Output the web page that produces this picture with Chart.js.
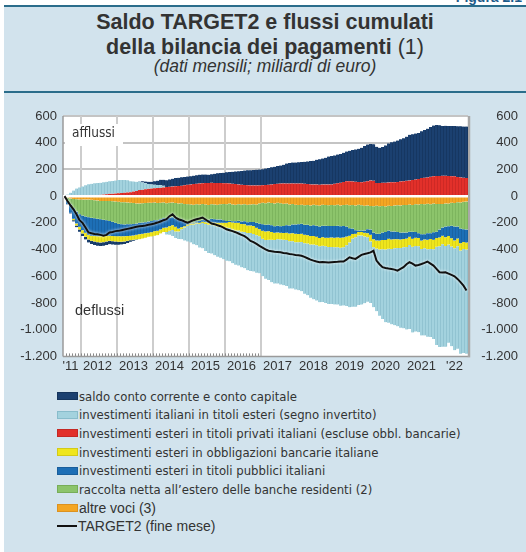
<!DOCTYPE html>
<html lang="it">
<head>
<meta charset="utf-8">
<title>Saldo TARGET2 e flussi cumulati</title>
<script src="https://cdn.jsdelivr.net/npm/chart.js@4.4.1/dist/chart.umd.min.js"></script>
<style>
  html, body { margin: 0; padding: 0; background: #fff; }
  #pagina { position: relative; width: 526px; height: 552px; overflow: hidden; background: #fff; }
  #pannello { position: absolute; left: 4px; top: 5px; right: 0; bottom: 0; background: #d2e3ed; border-top: 2px solid #2b6d8b; }
  #figura { position: absolute; right: 4px; top: -11px; font: bold 14px 'Liberation Sans', Arial, sans-serif; color: #1d5b8a; }
  #intestazione { position: absolute; left: 4px; right: 0; top: 7px; height: 84px; border-bottom: 2px solid #2b6d8b;
    text-align: center; color: #333; font-family: 'Liberation Sans', Arial, sans-serif; }
  .riga { position: absolute; left: 0; right: 0; white-space: nowrap; }
  .tit { font-weight: bold; font-size: 21.5px; line-height: 25px; }
  .tit span { font-weight: normal; }
  .sottotit { font-style: italic; font-size: 17.5px; line-height: 18px; }
  #area { position: absolute; background: #fff; }
  #grafico { position: absolute; left: 0; top: 95px; }
  #legenda { position: absolute; left: 57px; top: 387px; margin: 0; padding: 0; list-style: none; }
  #legenda li { height: 18.6px; display: flex; align-items: center; white-space: nowrap;
    font-family: 'DejaVu Sans Condensed', 'DejaVu Sans', sans-serif; font-stretch: condensed; font-size: 13px; color: #333; }
  #legenda li.arial { font-family: 'Liberation Sans', Arial, sans-serif; font-stretch: normal; font-size: 14px; }
  #legenda .box { width: 19px; height: 6px; margin-right: 1px; border: 1px solid; }
  #legenda .linea { width: 20px; height: 0; border-top: 2px solid #111; margin-right: 1px; }
</style>
</head>
<body>
<div id="pagina">
  <div id="figura">Figura 2.1</div>
  <div id="pannello"></div>
  <div id="intestazione">
    <div class="riga tit" style="top:3px">Saldo TARGET2 e flussi cumulati</div>
    <div class="riga tit" style="top:28px">della bilancia dei pagamenti <span>(1)</span></div>
    <div class="riga sottotit" style="top:50px">(dati mensili; miliardi di euro)</div>
  </div>
  <div id="area"></div>
  <canvas id="grafico" width="526" height="285"></canvas>
  <ul id="legenda"></ul>
</div>
<script>
// mesi da luglio 2011 a settembre 2022
const mesi = [];
for (let a = 2011, m = 7; mesi.length < 135; ) {
  mesi.push(a + '-' + String(m).padStart(2, '0'));
  m++;
  if (m > 12) { m = 1; a++; }
}

// etichette degli anni e mese su cui sono centrate
const etichetteAnni = ["'11", '2012', '2013', '2014', '2015', '2016', '2017', '2018', '2019', '2020', '2021', "'22"];
const posizioneAnni = ['2011-09', '2012-06', '2013-06', '2014-06', '2015-06', '2016-06', '2017-06', '2018-06', '2019-06', '2020-06', '2021-06', '2022-05'];
const griglieAnni = ['2012-01', '2013-01', '2014-01', '2015-01', '2016-01', '2017-01'];

const tickY = [600, 400, 200, 0, -200, -400, -600, -800, -1000, -1200];
const griglieY = [600, 400, 200];

// saldo conto corrente e conto capitale
const saldoCorrente = [
  0, -3, -6, -10, -13, -16,
  -18, -20, -22, -24, -25, -26, -27, -27, -26, -25, -25, -24,
  -22, -20, -18, -15, -12, -8, -4, 2, 8, 12, 16, 20,
  25, 32, 40, 45, 50, 55, 58, 62, 62, 64, 62, 62,
  62, 63, 64, 66, 66, 64, 62, 64, 68, 72, 75, 78,
  82, 85, 90, 95, 99, 104, 108, 112, 114, 116, 118, 119,
  120, 123, 126, 128, 130, 133, 135, 140, 150, 155, 157, 158,
  160, 161, 165, 170, 175, 178, 185, 190, 195, 200, 210, 212,
  213, 215, 216, 218, 222, 227, 235, 242, 248, 258, 268, 274,
  274, 273, 270, 263, 268, 280, 293, 300, 305, 310, 315, 322,
  330, 342, 344, 345, 345, 350, 358, 365, 372, 380, 382, 380,
  373, 375, 376, 376, 378, 380, 383, 384, 385
];

// investimenti italiani in titoli esteri (segno invertito)
const investItaliani = [
  0, 12, 25, 40, 55, 62,
  70, 78, 84, 87, 88, 90, 90, 92, 94, 95, 96, 97,
  98, 97, 95, 90, 82, 76, 70, 64, 55, 45, 36, 30,
  27, 24, 20, 12, -19, -30, -44, -50, -56, -75, -98, -118,
  -132, -148, -163, -179, -189, -202, -212, -217, -222, -227, -234, -240,
  -247, -250, -252, -257, -262, -267, -272, -279, -284, -281, -280, -278,
  -280, -290, -302, -319, -326, -333, -338, -340, -345, -355, -355, -355,
  -360, -368, -378, -387, -398, -410, -414, -418, -421, -424, -427, -428,
  -428, -430, -433, -436, -455, -485, -510, -520, -521, -517, -500, -483,
  -460, -450, -469, -497, -522, -545, -554, -564, -576, -587, -598, -607,
  -618, -630, -642, -641, -644, -648, -652, -656, -660, -673, -735, -755,
  -768, -755, -735, -746, -764, -768, -772, -779, -780
];

// investimenti esteri in titoli privati italiani (escluse obbl. bancarie)
const investPrivati = [
  0, 0, 1, 2, 2, 3,
  3, 4, 5, 6, 8, 9, 10, 12, 14, 17, 18, 20,
  22, 24, 26, 28, 30, 34, 38, 45, 48, 52, 55, 57,
  59, 60, 62, 65, 68, 70, 72, 74, 75, 78, 82, 85,
  87, 90, 93, 95, 96, 98, 99, 100, 99, 99, 98, 97,
  96, 95, 92, 90, 87, 85, 83, 81, 80, 80, 80, 80,
  82, 84, 85, 88, 90, 92, 94, 95, 94, 94, 95, 94,
  94, 94, 92, 90, 88, 87, 87, 86, 87, 87, 87, 88,
  92, 96, 100, 106, 112, 112, 110, 108, 106, 104, 108, 112,
  117, 115, 99, 99, 100, 100, 102, 104, 104, 106, 110, 112,
  115, 117, 120, 124, 128, 135, 137, 140, 145, 149, 150, 150,
  152, 152, 150, 149, 148, 144, 140, 137, 136
];

// investimenti esteri in obbligazioni bancarie italiane
const obblBancarie = [
  0, 0, 0, -10, -15, -20,
  -25, -30, -35, -38, -42, -45, -47, -46, -42, -38, -40, -40,
  -42, -41, -40, -37, -33, -32, -35, -37, -36, -34, -31, -32,
  -33, -32, -30, -32, -34, -35, -36, -34, -22, -15, -10, -10,
  -10, -8, -7, -7, -10, -13, -14, -17, -22, -27, -29, -32,
  -37, -44, -53, -57, -58, -57, -58, -57, -56, -60, -57, -52,
  -60, -63, -63, -58, -54, -50, -50, -51, -54, -57, -60, -63,
  -61, -62, -62, -63, -64, -65, -63, -62, -64, -65, -68, -70,
  -72, -73, -75, -74, -65, -50, -35, -27, -27, -27, -28, -30,
  -50, -60, -61, -66, -70, -71, -74, -72, -68, -66, -63, -62,
  -62, -61, -60, -61, -62, -62, -66, -70, -74, -70, -65, -65,
  -63, -65, -65, -62, -58, -57, -56, -51, -52
];

// investimenti esteri in titoli pubblici italiani
const titoliPubblici = [
  0, -25, -62, -80, -90, -94,
  -110, -123, -132, -135, -132, -130, -127, -123, -118, -111, -106, -100,
  -94, -91, -88, -88, -87, -87, -85, -85, -84, -83, -84, -84,
  -83, -80, -77, -72, -67, -63, -59, -63, -70, -60, -40, -20,
  -7, -7, -10, -12, -16, -19, -23, -26, -25, -25, -24, -20,
  -13, -10, -9, -12, -15, -20, -22, -24, -26, -29, -37, -43,
  -50, -50, -50, -50, -50, -50, -49, -52, -56, -60, -65, -70,
  -74, -75, -76, -77, -78, -80, -83, -87, -87, -89, -88, -87,
  -87, -87, -87, -85, -75, -57, -40, -26, -10, -10, -17, -30,
  -40, -50, -50, -52, -56, -60, -62, -60, -57, -54, -52, -49,
  -46, -38, -52, -44, -36, -48, -40, -50, -44, -56, -48, -60,
  -62, -80, -72, -95, -105, -90, -110, -96, -98
];

// raccolta netta all'estero delle banche residenti
const raccoltaBanche = [
  -2, -25, -44, -68, -91, -111,
  -120, -127, -133, -135, -136, -137, -136, -139, -143, -149, -154, -160,
  -164, -165, -166, -162, -160, -156, -150, -145, -144, -143, -140, -136,
  -132, -128, -123, -118, -115, -112, -111, -115, -118, -120, -127, -132,
  -136, -133, -128, -124, -118, -114, -111, -110, -111, -111, -115, -122,
  -127, -128, -126, -124, -125, -126, -128, -130, -132, -134, -136, -150,
  -160, -162, -165, -166, -170, -172, -171, -167, -162, -158, -153, -147,
  -143, -143, -145, -149, -151, -153, -154, -156, -157, -155, -155, -157,
  -156, -157, -155, -158, -164, -171, -177, -185, -193, -190, -185, -178,
  -176, -196, -210, -206, -199, -191, -186, -190, -195, -200, -203, -206,
  -206, -203, -201, -208, -215, -227, -224, -220, -217, -215, -207, -192,
  -177, -173, -170, -171, -175, -182, -195, -206, -210
];

// altre voci
const altreVoci = [
  -3, -10, -18, -22, -24, -25,
  -25, -25, -25, -27, -30, -33, -37, -37, -37, -37, -38, -40,
  -42, -45, -46, -48, -50, -52, -55, -55, -54, -52, -50, -50,
  -48, -52, -50, -47, -53, -50, -48, -52, -55, -53, -58, -60,
  -62, -65, -60, -63, -58, -62, -66, -60, -62, -64, -60, -58,
  -60, -56, -62, -64, -60, -63, -60, -65, -62, -60, -63, -55,
  -50, -53, -48, -52, -55, -50, -54, -57, -56, -62, -59, -65,
  -67, -64, -69, -66, -70, -65, -68, -71, -64, -67, -69, -66,
  -68, -65, -70, -66, -64, -69, -66, -70, -65, -68, -72, -70,
  -74, -76, -72, -75, -73, -77, -72, -74, -70, -68, -70, -66,
  -66, -63, -66, -60, -62, -58, -61, -57, -60, -56, -59, -58,
  -58, -55, -56, -50, -52, -46, -47, -42, -40
];

// TARGET2 (fine mese)
const target2 = [
  0, -37, -70, -99, -136, -180,
  -200, -235, -272, -278, -283, -285, -290, -297, -290, -272, -268, -262,
  -260, -255, -250, -245, -240, -235, -230, -226, -223, -220, -215, -210,
  -205, -198, -190, -180, -173, -150, -136, -160, -173, -180, -190, -198,
  -190, -180, -173, -168, -161, -175, -190, -205, -210, -218, -225, -235,
  -248, -255, -262, -270, -280, -290, -300, -315, -335, -345, -358, -372,
  -385, -398, -409, -412, -416, -418, -421, -425, -428, -433, -436, -440,
  -443, -446, -455, -465, -475, -483, -490, -495, -493, -495, -497, -495,
  -493, -492, -490, -490, -475, -458, -465, -470, -455, -440, -433, -428,
  -421, -409, -483, -510, -532, -538, -542, -545, -550, -558, -545, -532,
  -510, -495, -505, -520, -515, -508, -500, -490, -505, -520, -545, -570,
  -572, -570, -580, -590, -600, -620, -644, -670, -706
];

[saldoCorrente, investItaliani, investPrivati, obblBancarie, titoliPubblici, raccoltaBanche, altreVoci, target2].forEach(s => {
  if (s.length !== mesi.length) throw new Error('lunghezza serie ' + s.length);
});

function barra(label, data, colore, bordo) {
  return {
    type: 'bar', label: label, data: data,
    backgroundColor: colore, borderColor: bordo,
    borderWidth: { left: 0, right: 1, top: 0, bottom: 0 }, borderSkipped: false,
    barPercentage: 1, categoryPercentage: 1
  };
}

// ordine di impilamento: dallo zero verso l'esterno
const datasets = [
  {
    type: 'line', label: 'TARGET2 (fine mese)', data: target2,
    borderColor: '#111', borderWidth: 2, pointRadius: 0, tension: 0, order: -1
  },
  barra('investimenti esteri in titoli privati italiani (escluse obbl. bancarie)', investPrivati, '#e2302a', '#c42824'),
  barra('altre voci (3)', altreVoci, '#f4a623', '#dc9220'),
  barra('raccolta netta all\u2019estero delle banche residenti (2)', raccoltaBanche, '#8cc46b', '#77ad58'),
  barra('investimenti esteri in titoli pubblici italiani', titoliPubblici, '#1d6fb6', '#195e9b'),
  barra('investimenti esteri in obbligazioni bancarie italiane', obblBancarie, '#efe61d', '#d3ca18'),
  barra('investimenti italiani in titoli esteri (segno invertito)', investItaliani, '#a3d2de', '#88bccb'),
  barra('saldo conto corrente e conto capitale', saldoCorrente, '#1b4070', '#15345c')
];

// ordine delle voci in legenda
const ordineLegenda = [7, 6, 1, 5, 4, 3, 2, 0];

function formatoIt(v) {
  const s = String(Math.abs(v));
  const t = s.length > 3 ? s.slice(0, -3) + '.' + s.slice(-3) : s;
  return (v < 0 ? '-' : '') + t;
}

function linea(ctx, x1, y1, x2, y2, colore, spessore) {
  ctx.strokeStyle = colore;
  ctx.lineWidth = spessore;
  ctx.beginPath();
  ctx.moveTo(x1, y1);
  ctx.lineTo(x2, y2);
  ctx.stroke();
}

const decorazioni = {
  id: 'decorazioni',
  beforeDatasetsDraw(chart) {
    const { ctx, chartArea: a, scales } = chart;
    const sx = scales.x, sy = scales.y;
    const passo = sx.getPixelForValue(1) - sx.getPixelForValue(0);
    ctx.save();
    // griglia: linee orizzontali sopra lo zero, verticali a inizio anno
    griglieY.forEach(v => {
      const y = Math.round(sy.getPixelForValue(v));
      linea(ctx, a.left, y, a.right, y, '#c4c4c4', 2);
    });
    griglieAnni.forEach(m => {
      const x = Math.round(sx.getPixelForValue(mesi.indexOf(m)) - passo / 2);
      linea(ctx, x, a.top, x, a.bottom, '#cdcdcd', 2);
    });
    // tacche mensili sull'asse orizzontale
    for (let i = 1; i < mesi.indexOf('2017-01'); i++) {
      const x = Math.round(sx.getPixelForValue(i) - passo / 2) + 0.5;
      linea(ctx, x, a.bottom, x, a.bottom - 3, '#8a8a8a', 1);
    }
    // cornice
    linea(ctx, a.left, a.top, a.left, a.bottom, '#9a9a9a', 1.5);
    linea(ctx, a.left, a.bottom, a.right, a.bottom, '#9a9a9a', 1.5);
    linea(ctx, a.right + 1, a.top, a.right + 1, a.bottom + 1, '#a8a8a8', 2.5);
    // scritte
    ctx.fillStyle = '#fff';
    ctx.fillRect(a.left + 2, sy.getPixelForValue(540), 58, 22);
    ctx.fillStyle = '#333';
    ctx.textBaseline = 'middle';
    ctx.font = '13.5px "DejaVu Sans Condensed", "DejaVu Sans", sans-serif';
    ctx.fillText('afflussi', a.left + 9, sy.getPixelForValue(470));
    ctx.font = '14.5px "Liberation Sans", Arial, sans-serif';
    ctx.fillText('deflussi', a.left + 12, sy.getPixelForValue(-860));
    ctx.restore();
  },
  beforeDatasetDraw(chart, args) {
    if (args.meta.type !== 'line') return;
    const { ctx, chartArea: a, scales } = chart;
    const y0 = scales.y.getPixelForValue(0);
    ctx.save();
    linea(ctx, a.left, y0, a.right, y0, '#fff', 2.5);
    ctx.shadowColor = 'rgba(255,255,255,0.9)';
    ctx.shadowBlur = 3;
  },
  afterDatasetDraw(chart, args) {
    if (args.meta.type !== 'line') return;
    chart.ctx.restore();
  }
};

const fontTick = { family: "'Liberation Sans', Arial, sans-serif", size: 13 };
const senzaGriglia = { display: false, drawTicks: false };

const grafico = new Chart(document.getElementById('grafico').getContext('2d'), {
  data: { labels: mesi, datasets: datasets },
  plugins: [decorazioni],
  options: {
    responsive: false,
    animation: false,
    layout: { padding: { top: 21, right: 8, bottom: 4, left: 0 } },
    plugins: { legend: { display: false }, tooltip: { enabled: false } },
    scales: {
      x: {
        stacked: true,
        offset: true,
        grid: senzaGriglia,
        border: { display: false },
        ticks: {
          autoSkip: false, maxRotation: 0, minRotation: 0, padding: 2,
          color: '#333', font: fontTick,
          callback: (v, i) => {
            const k = posizioneAnni.indexOf(mesi[i]);
            return k >= 0 ? etichetteAnni[k] : '';
          }
        }
      },
      y: {
        stacked: true,
        position: 'left',
        min: tickY[tickY.length - 1], max: tickY[0],
        afterBuildTicks: s => { s.ticks = tickY.map(v => ({ value: v })); },
        afterFit: s => { s.width = 63; },
        grid: senzaGriglia,
        border: { display: false },
        ticks: { padding: 6, color: '#333', font: fontTick, callback: v => formatoIt(v) }
      },
      y2: {
        position: 'right',
        min: tickY[tickY.length - 1], max: tickY[0],
        afterBuildTicks: s => { s.ticks = tickY.map(v => ({ value: v })); },
        afterFit: s => { s.width = 50; },
        grid: senzaGriglia,
        border: { display: false },
        ticks: { padding: 6, crossAlign: 'far', color: '#333', font: fontTick, callback: v => formatoIt(v) }
      }
    }
  }
});

// sfondo bianco dell'area del grafico, dietro la tela
const ca = grafico.chartArea;
const area = document.getElementById('area');
area.style.left = ca.left + 'px';
area.style.top = (95 + ca.top) + 'px';
area.style.width = (ca.right - ca.left) + 'px';
area.style.height = (ca.bottom - ca.top) + 'px';

// legenda
const ul = document.getElementById('legenda');
ordineLegenda.forEach(i => {
  const d = datasets[i];
  const li = document.createElement('li');
  const segno = document.createElement('span');
  if (d.type === 'line') {
    segno.className = 'linea';
  } else {
    segno.className = 'box';
    segno.style.background = d.backgroundColor;
    segno.style.borderColor = d.borderColor;
  }
  if (i === 0 || i === 2) li.className = 'arial';
  li.appendChild(segno);
  li.appendChild(document.createTextNode(d.label));
  ul.appendChild(li);
});
</script>
</body>
</html>
